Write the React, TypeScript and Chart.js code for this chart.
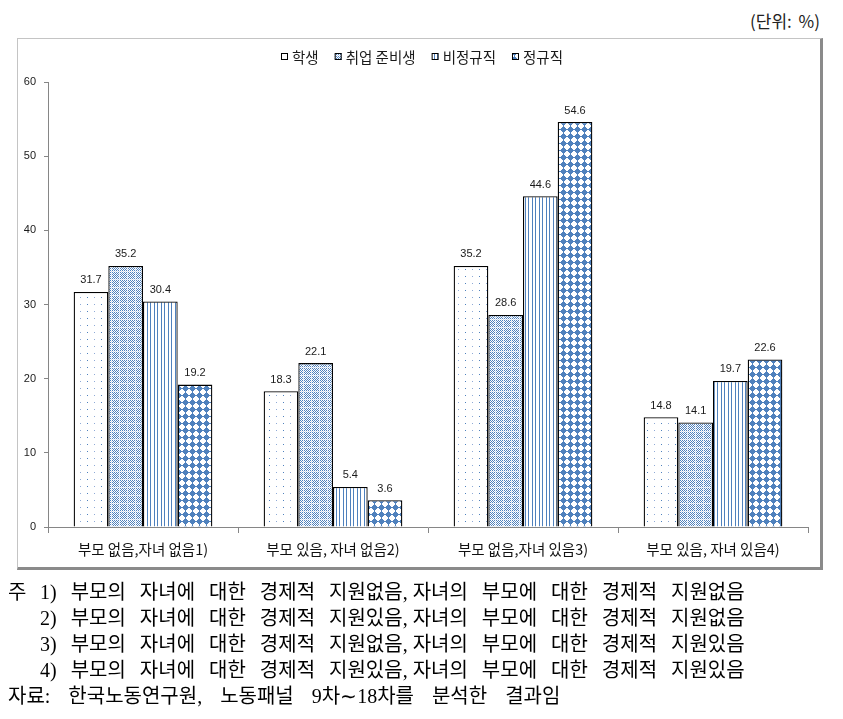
import React, { useEffect, useRef } from "react";
import { Chart, registerables } from "chart.js";

Chart.register(...registerables);

const categories = [
  "부모 없음,자녀 없음1)",
  "부모 있음, 자녀 없음2)",
  "부모 없음,자녀 있음3)",
  "부모 있음, 자녀 있음4)",
];
const seriesNames = ["학생", "취업 준비생", "비정규직", "정규직"];
const studentValues = [31.7, 18.3, 35.2, 14.8];
const jobSeekerValues = [35.2, 22.1, 28.6, 14.1];
const nonRegularValues = [30.4, 5.4, 44.6, 19.7];
const regularValues = [19.2, 3.6, 54.6, 22.6];
const yMin = 0;
const yMax = 60;
const yStep = 10;
const unitLabel = "(단위: %)";
const noteLead = "주";
const noteLines = [
  ["1) 부모의 자녀에 대한 경제적 지원없음", "자녀의 부모에 대한 경제적 지원없음"],
  ["2) 부모의 자녀에 대한 경제적 지원있음", "자녀의 부모에 대한 경제적 지원없음"],
  ["3) 부모의 자녀에 대한 경제적 지원없음", "자녀의 부모에 대한 경제적 지원있음"],
  ["4) 부모의 자녀에 대한 경제적 지원있음", "자녀의 부모에 대한 경제적 지원있음"],
];
const sourceLine = "자료: 한국노동연구원, 노동패널 9차∼18차를 분석한 결과임";

const BLUE = "#4F81BD";

function makeTile(w: number, h: number, paint: (c: CanvasRenderingContext2D) => void) {
  const cv = document.createElement("canvas");
  cv.width = w;
  cv.height = h;
  const c = cv.getContext("2d")!;
  c.fillStyle = "#ffffff";
  c.fillRect(0, 0, w, h);
  paint(c);
  return cv;
}

function px(c: CanvasRenderingContext2D, x: number, y: number, color: string) {
  c.fillStyle = color;
  c.fillRect(x, y, 1, 1);
}

function buildPatterns(ctx: CanvasRenderingContext2D) {
  const dots = makeTile(14, 7, (c) => {
    px(c, 3, 3, BLUE);
    px(c, 10, 3, "#8FAAD6");
  });
  const checker = makeTile(8, 8, (c) => {
    for (let y = 0; y < 8; y++)
      for (let x = 0; x < 8; x++) {
        if ((x + y) % 2 === 0) {
          const light = x === 7 || y === 7;
          px(c, x, y, light ? "#C8D7EC" : BLUE);
        }
      }
  });
  const vlines = makeTile(7, 1, (c) => {
    px(c, 0, 0, BLUE);
    px(c, 3, 0, BLUE);
  });
  const diamonds = makeTile(7, 7, (c) => {
    const rows: [number, number][] = [
      [3, 3],
      [2, 4],
      [1, 5],
      [0, 6],
      [1, 5],
      [2, 4],
      [3, 3],
    ];
    rows.forEach(([a, b], y) => {
      for (let x = a; x <= b; x++) px(c, x, y, BLUE);
    });
    px(c, 1, 3, "#ffffff");
    px(c, 5, 3, "#ffffff");
    px(c, 3, 1, "#ffffff");
    px(c, 3, 5, "#ffffff");
    px(c, 1, 3, BLUE);
    px(c, 5, 3, BLUE);
    px(c, 3, 1, BLUE);
    px(c, 3, 5, BLUE);
    px(c, 0, 0, "#ffffff");
  });
  return [dots, checker, vlines, diamonds].map((t) => ctx.createPattern(t, "repeat") as CanvasPattern);
}

export default function App() {
  const ref = useRef<HTMLCanvasElement>(null);

  useEffect(() => {
    const canvas = ref.current!;
    const ctx = canvas.getContext("2d")!;
    const patterns = buildPatterns(ctx);
    const seriesValues = [studentValues, jobSeekerValues, nonRegularValues, regularValues];

    const valueLabels = {
      id: "valueLabels",
      afterDatasetsDraw(chart: any) {
        const c = chart.ctx;
        c.save();
        c.font = '11px "Liberation Sans", Arial, sans-serif';
        c.fillStyle = "#1a1a1a";
        c.textAlign = "center";
        c.textBaseline = "bottom";
        chart.data.datasets.forEach((ds: any, i: number) => {
          const meta = chart.getDatasetMeta(i);
          meta.data.forEach((el: any, j: number) => {
            c.fillText(Number(ds.data[j]).toFixed(1), el.x, el.y - 6);
          });
        });
        c.restore();
      },
    };

    const legendPlugin = {
      id: "customLegend",
      afterDraw(chart: any) {
        const c = chart.ctx;
        c.save();
        c.font = '14.5px "Noto Sans CJK KR", sans-serif';
        c.textBaseline = "middle";
        c.textAlign = "left";
        const y = 56;
        const gap = 16;
        const box = 7;
        const widths = seriesNames.map((n) => box + 4 + c.measureText(n).width);
        const total = widths.reduce((a, b) => a + b, 0) + gap * (seriesNames.length - 1);
        let x = Math.round(422 - total / 2);
        seriesNames.forEach((n, i) => {
          c.fillStyle = patterns[i];
          c.fillRect(x, y - 3, box, box);
          c.strokeStyle = "#000";
          c.lineWidth = 1;
          c.strokeRect(x + 0.5, y - 3 + 0.5, box - 1, box - 1);
          c.fillStyle = "#1a1a1a";
          c.fillText(n, x + box + 4, y + 1);
          x += widths[i] + gap;
        });
        c.restore();
      },
    };

    const axisColor = "#868686";
    const chart = new Chart(canvas, {
      type: "bar",
      data: {
        labels: categories,
        datasets: seriesNames.map((name, i) => ({
          label: name,
          data: seriesValues[i],
          backgroundColor: patterns[i],
          borderColor: "#000",
          borderWidth: 1.3,
          categoryPercentage: 0.73,
          barPercentage: 1.0,
        })),
      },
      options: {
        responsive: false,
        animation: false,
        devicePixelRatio: 1,
        layout: { padding: { left: 0, right: 35, top: 82, bottom: 0 } },
        plugins: { legend: { display: false }, tooltip: { enabled: false } },
        scales: {
          x: {
            grid: {
              offset: true,
              drawOnChartArea: false,
              drawTicks: true,
              tickLength: 6,
              color: axisColor,
            },
            border: { color: axisColor },
            ticks: {
              font: { family: '"Noto Sans CJK KR", sans-serif', size: 14.5 },
              color: "#111",
              padding: 8,
              maxRotation: 0,
              autoSkip: false,
            },
            afterFit: (s: any) => {
              s.height = 192;
            },
          },
          y: {
            min: yMin,
            max: yMax,
            ticks: {
              stepSize: yStep,
              padding: 8,
              font: { family: '"Liberation Sans", Arial, sans-serif', size: 11 },
              color: "#1a1a1a",
            },
            grid: { drawOnChartArea: false, tickLength: 4, color: axisColor },
            border: { color: axisColor },
            afterFit: (s: any) => {
              s.width = 48;
            },
          },
        },
      } as any,
      plugins: [valueLabels, legendPlugin],
    });
    return () => chart.destroy();
  }, []);

  const noteFont: React.CSSProperties = {
    position: "absolute",
    fontFamily: '"Liberation Serif", "Noto Sans CJK KR", serif',
    fontSize: 20,
    color: "#000",
    whiteSpace: "pre",
    lineHeight: "24px",
    wordSpacing: 9,
  };

  return (
    <div style={{ position: "absolute", left: 0, top: 0, width: 843, height: 719, background: "#fff" }}>
      <div
        style={{
          position: "absolute",
          left: 17,
          top: 38,
          width: 806,
          height: 532,
          boxSizing: "border-box",
          borderLeft: "1px solid #c4c4c4",
          borderTop: "1px solid #c4c4c4",
          borderRight: "3px solid #8a8a8a",
          borderBottom: "3px solid #8a8a8a",
        }}
      />
      <div
        style={{
          position: "absolute",
          right: 843 - 820,
          top: 10,
          fontFamily: '"Noto Sans CJK KR", sans-serif',
          fontSize: 17,
          color: "#222",
          whiteSpace: "pre",
          lineHeight: "22px",
          wordSpacing: 3,
        }}
      >
        {unitLabel}
      </div>
      <canvas
        ref={ref}
        width={843}
        height={719}
        style={{ position: "absolute", left: 0, top: 0, width: 843, height: 719 }}
      />
      <div style={{ ...noteFont, left: 8, top: 580 }}>{noteLead}</div>
      {noteLines.map((t, i) => (
        <div key={i} style={{ ...noteFont, left: 40, top: 580 + i * 26 }}>
          {t[0]}
          <span style={{ wordSpacing: 0 }}>{", "}</span>
          {t[1]}
        </div>
      ))}
      <div style={{ ...noteFont, left: 8, top: 580 + 4 * 26, wordSpacing: 13 }}>{sourceLine}</div>
    </div>
  );
}
